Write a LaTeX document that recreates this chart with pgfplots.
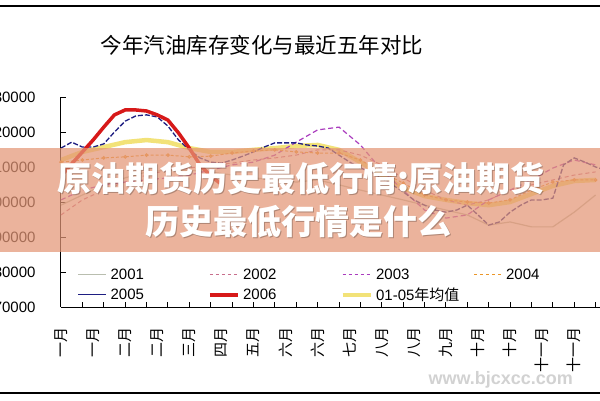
\documentclass[border=0pt]{standalone}
\usepackage{fontspec}
\setmainfont{Liberation Sans}
\newfontfamily\cjk{Noto Sans CJK SC}
\usepackage{pgfplots}
\pgfplotsset{compat=1.18}
\usepackage{pgfplotstable}

\definecolor{cA}{RGB}{185,190,175}
\definecolor{cB}{RGB}{200,110,140}
\definecolor{cC}{RGB}{170,60,190}
\definecolor{cD}{RGB}{235,150,40}
\definecolor{cE}{RGB}{30,30,130}
\definecolor{cF}{RGB}{215,25,25}
\definecolor{cAvg}{RGB}{242,226,120}
\definecolor{banner}{RGB}{228,150,118}

% 2006 (weekly)
\pgfplotstableread{
w y
0 207400
1 210900
2 214300
3 217700
4 221400
5 224900
6 226300
7 226300
8 226000
9 224900
10 223400
11 219700
12 215400
13 210600
14 207400
15 205100
}\tblF

% 2005 (weekly)
\pgfplotstableread{
w y
0 215400
1 217100
2 215700
3 215700
4 216600
5 220000
6 223100
7 224600
8 224900
9 224300
10 221700
11 217700
12 214900
13 212600
14 211400
15 211100
16 212000
17 213100
18 214300
19 215700
20 216900
21 216900
22 216900
23 216300
24 216000
25 215400
26 213400
27 211400
28 209700
29 208600
30 206900
31 204900
32 202900
33 200600
34 199100
35 197700
36 197100
37 197700
38 199100
39 196300
40 193400
41 194300
42 197100
43 199100
44 200600
45 200600
46 201100
47 210600
48 212600
49 211400
50 210000
51 209100
}\tblE

% 2001..2004 and average (every second week)
\pgfplotstableread{
w a b c d avg
0  199100 196300 200600 211400 212000
2  202000 200600 203400 212000 214300
4  204900 203400 204900 212600 215700
6  206900 205700 205700 212900 217100
8  208600 207700 206300 213400 217700
10 209100 209100 206900 213400 217100
12 209100 209700 207700 212900 215400
14 208600 210600 209100 213100 214300
16 207700 211100 210600 214000 214300
18 206900 212000 211400 214600 214900
20 206300 212600 213400 214900 215400
22 205700 213400 217100 214300 216000
24 206300 214900 220600 214000 216300
26 204900 214900 221400 214000 214900
28 203400 213400 216300 212000 211400
30 202000 210600 209100 208600 207700
32 200600 206900 203400 205400 204000
34 199100 203400 197700 202000 201700
36 197700 200600 195400 200600 200600
38 196300 199100 196300 200000 199700
40 193400 200600 200600 199700 199100
42 194300 203400 203400 200600 200000
44 192900 204900 206300 203400 202300
46 192900 206300 209700 205700 204600
48 197100 207700 212000 206300 206000
50 202000 208600 210600 206300 206300
}\tblS

\begin{document}
\begin{tikzpicture}
\useasboundingbox (0pt,0pt) rectangle (600pt,400pt);
\clip (0pt,0pt) rectangle (600pt,400pt);
\fill[white] (0pt,0pt) rectangle (600pt,400pt);
\draw[line width=2pt] (0pt,394pt) -- (600pt,394pt);
\draw[line width=2pt] (0pt,7pt) -- (600pt,7pt);
\node[font=\cjk\fontsize{21.5}{26}\selectfont] at (262pt,355pt) {今年汽油库存变化与最近五年对比};

\begin{axis}[
  at={(61pt,93pt)}, anchor=south west, scale only axis,
  width=556pt, height=210pt,
  xmin=0, xmax=52, ymin=170000, ymax=230000,
  axis lines*=left,
  axis line style={line width=1pt, black},
  tick align=inside,
  tick style={line width=1pt, black},
  major tick length=5pt, minor tick length=5pt,
  ytick={170000,180000,...,230000},
  scaled y ticks=false,
  yticklabel style={font=\fontsize{15}{18}\selectfont,
    /pgf/number format/.cd, fixed, 1000 sep={}, assume math mode=true},
  yticklabel shift=22pt,
  xtick={0,3,...,48},
  xticklabels={一月,一月,二月,二月,三月,四月,五月,六月,六月,七月,八月,八月,九月,十月,十月,十一月,十一月},
  xticklabel style={rotate=90, anchor=east, font=\cjk\fontsize{15}{18}\selectfont},
  xticklabel shift=17pt,
  major x tick style={draw=none},
  minor xtick={2,4,...,50},
  legend columns=4,
  legend cell align=left,
  legend image code/.code={\draw[#1] (0pt,0pt) -- (28pt,0pt);},
  legend style={at={(0.03,0.2)}, anchor=north west, draw=none, fill=none,
    font=\fontsize{15}{18}\selectfont, inner sep=0pt,
    nodes={inner sep=3.5pt}, row sep=0pt,
    /tikz/every even column/.append style={column sep=2pt}},
]
\addlegendimage{cA, line width=1pt}
\addlegendentry{\makebox[92pt][l]{2001}}
\addlegendimage{cB, line width=1pt, dashed}
\addlegendentry{\makebox[92pt][l]{2002}}
\addlegendimage{cC, line width=1pt, dashed}
\addlegendentry{\makebox[92pt][l]{2003}}
\addlegendimage{cD, line width=1pt, dashed}
\addlegendentry{\makebox[92pt][l]{2004}}
\addlegendimage{cE, line width=1.2pt}
\addlegendentry{\makebox[92pt][l]{2005}}
\addlegendimage{cF, line width=3.5pt}
\addlegendentry{\makebox[92pt][l]{2006}}
\addlegendimage{cAvg, line width=4pt}
\addlegendentry{\makebox[92pt][l]{01-05{\cjk 年均值}}}

\addplot[cAvg, line width=4.5pt, forget plot] table[x=w, y=avg] {\tblS};
\addplot[cA, line width=1.2pt, forget plot] table[x=w, y=a] {\tblS};
\addplot[cB, line width=1pt, dash pattern=on 4pt off 3pt, forget plot] table[x=w, y=b] {\tblS};
\addplot[cC, line width=1.2pt, dash pattern=on 5pt off 3pt, forget plot] table[x=w, y=c] {\tblS};
\addplot[cD, line width=1pt, dash pattern=on 3pt off 2pt, mark=o, mark size=1.3pt, mark options={solid}, forget plot] table[x=w, y=d] {\tblS};
\addplot[cE, line width=1.3pt, dash pattern=on 5pt off 2pt, forget plot] table[x=w, y=y] {\tblE};
\addplot[cF, line width=3.5pt, forget plot] table[x=w, y=y] {\tblF};
\end{axis}

\fill[banner, fill opacity=0.72] (0pt,148pt) rectangle (600pt,252pt);
\begin{scope}[font=\cjk\bfseries\fontsize{34}{40}\selectfont]
\node[text=black, opacity=0.25] at (302pt,220pt) {原油期货历史最低行情:原油期货};
\node[text=black, opacity=0.25] at (299pt,177pt) {历史最低行情是什么};
\node[text=white] at (301pt,221pt) {原油期货历史最低行情:原油期货};
\node[text=white] at (298pt,178pt) {历史最低行情是什么};
\end{scope}
\node[text=gray!35, font=\bfseries\fontsize{18}{20}\selectfont, anchor=west] at (425pt,20pt) {www.bjcxcc.com};
\end{tikzpicture}
\end{document}
